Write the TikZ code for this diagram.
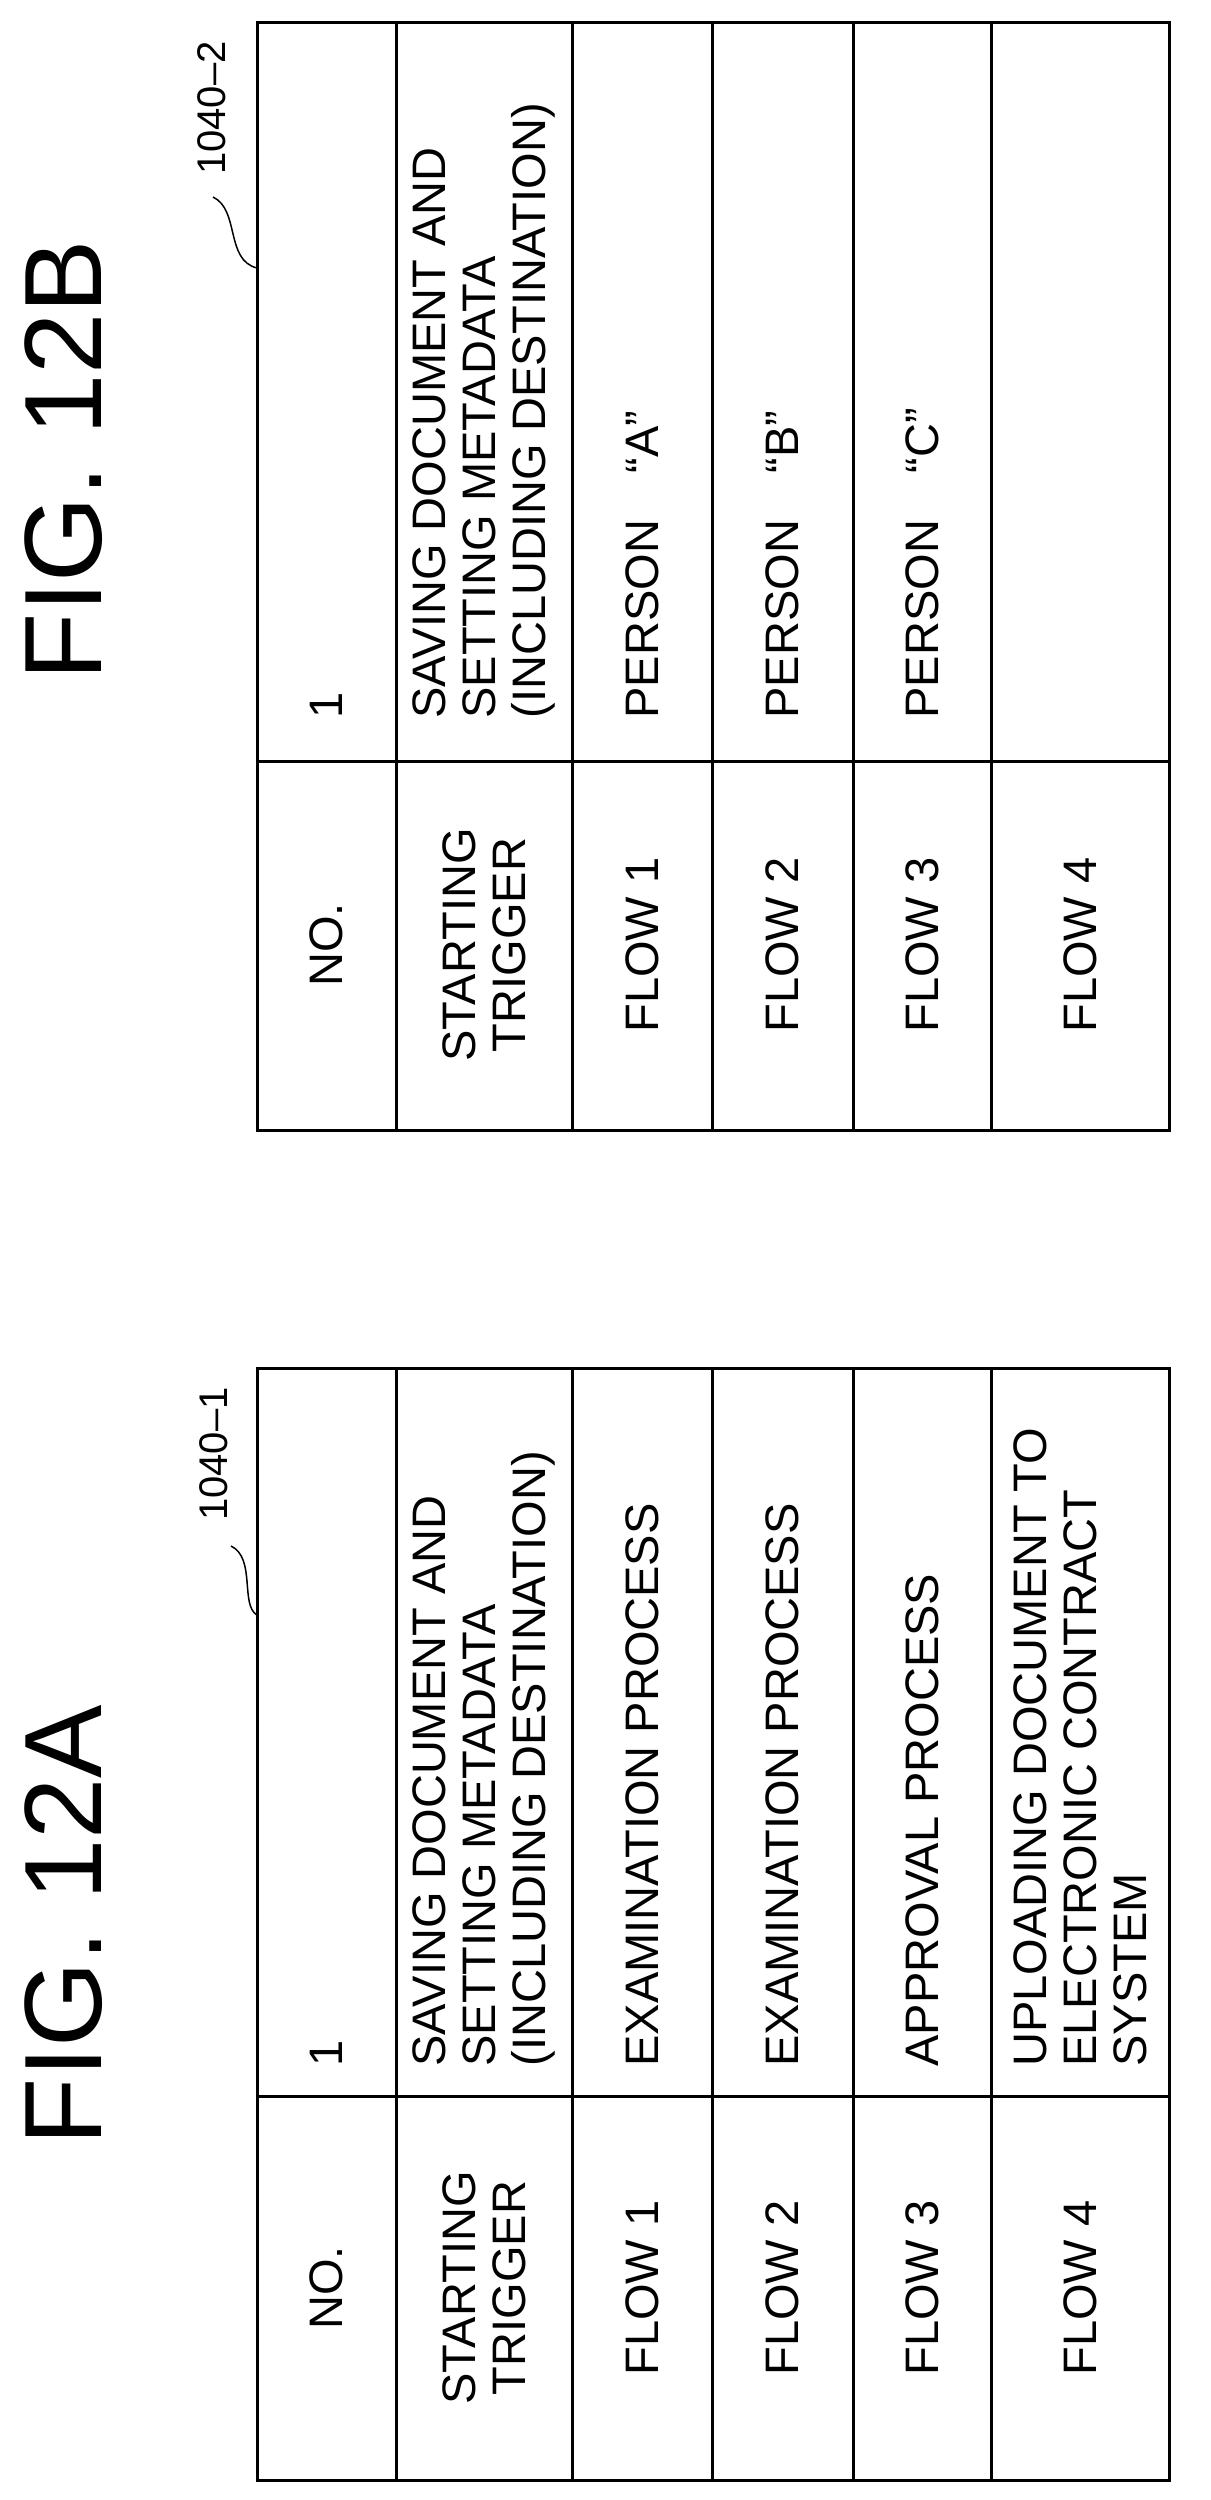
\documentclass[tikz,border=0pt]{standalone}
\usepackage{fontspec}
\setmainfont{Liberation Sans}
\usepackage{tikz}
\usetikzlibrary{positioning}

\begin{document}
\begin{tikzpicture}[x=1pt, y=-1pt, line width=3pt,
    cell/.style = {rotate=90, font=\fontsize{47}{50}\selectfont, inner sep=0pt, align=left},
    head/.style = {cell, align=center},
    val/.style = {cell, anchor=west},
    fig/.style = {rotate=90, font=\fontsize{110}{110}\selectfont, inner sep=0pt},
    ref/.style = {rotate=90, font=\fontsize{40}{40}\selectfont, inner sep=0pt}]
    \useasboundingbox (0,0) rectangle (1210,2500);

    % FIG. 12B
    \node[fig] (figB) at (64,460) {FIG. 12B};
    \draw (257,22) rectangle (1169,1130);
    \foreach \x in {396,572,712,853,991} \draw (\x,22) -- (\x,1130);
    \draw (257,761) -- (1169,761);
    \node[ref] (refB) at (212,108) {1040--2};
    \coordinate (tabB) at (257,268);
    \draw[line width=1.5pt] (213,197) .. controls (240,210) and (225,260) .. (tabB);

    \node[head] (noB) at (326,945) {NO.};
    \node[head] (trigB) at (484,945) {STARTING\\TRIGGER};
    \node[head] (f1B) at (642,945) {FLOW 1};
    \node[head] (f2B) at (782,945) {FLOW 2};
    \node[head] (f3B) at (922,945) {FLOW 3};
    \node[head] (f4B) at (1080,945) {FLOW 4};
    \node[val] (v0B) at (326,720) {1};
    \node[val] (v1B) at (484,720) {SAVING DOCUMENT AND\\SETTING METADATA\\(INCLUDING DESTINATION)};
    \node[val] (v2B) at (642,720) {PERSON\quad “A”};
    \node[val] (v3B) at (782,720) {PERSON\quad “B”};
    \node[val] (v4B) at (922,720) {PERSON\quad “C”};

    % FIG. 12A
    \node[fig] (figA) at (64,1925) {FIG. 12A};
    \draw (257,1368) rectangle (1169,2480);
    \foreach \x in {396,572,712,853,991} \draw (\x,1368) -- (\x,2480);
    \draw (257,2096) -- (1169,2096);
    \node[ref] (refA) at (214,1454) {1040--1};
    \coordinate (tabA) at (257,1615);
    \draw[line width=1.5pt] (231,1546) .. controls (256,1558) and (240,1605) .. (tabA);

    \node[head] (noA) at (326,2288) {NO.};
    \node[head] (trigA) at (484,2288) {STARTING\\TRIGGER};
    \node[head] (f1A) at (642,2288) {FLOW 1};
    \node[head] (f2A) at (782,2288) {FLOW 2};
    \node[head] (f3A) at (922,2288) {FLOW 3};
    \node[head] (f4A) at (1080,2288) {FLOW 4};
    \node[val] (v0A) at (326,2068) {1};
    \node[val] (v1A) at (484,2068) {SAVING DOCUMENT AND\\SETTING METADATA\\(INCLUDING DESTINATION)};
    \node[val] (v2A) at (642,2068) {EXAMINATION PROCESS};
    \node[val] (v3A) at (782,2068) {EXAMINATION PROCESS};
    \node[val] (v4A) at (922,2068) {APPROVAL PROCESS};
    \node[val] (v5A) at (1080,2068) {UPLOADING DOCUMENT TO\\ELECTRONIC CONTRACT\\SYSTEM};
\end{tikzpicture}
\end{document}
